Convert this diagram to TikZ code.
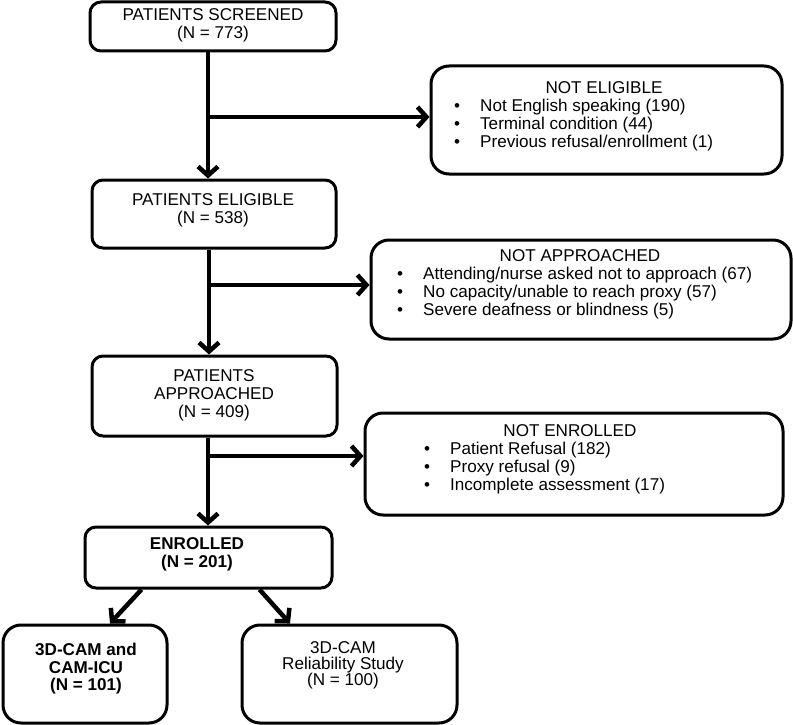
\documentclass[tikz,border=0pt]{standalone}
\usepackage{fontspec}
\setmainfont{Liberation Sans}
\usetikzlibrary{arrows.meta}
\begin{document}
\begin{tikzpicture}[x=1pt,y=-1pt,
  box/.style={draw, line width=3pt, rounded corners=11pt, inner sep=0pt},
  sidebox/.style={box, rounded corners=18pt},
  txt/.style={align=center, inner sep=0pt, font=\fontsize{17.1}{18}\selectfont},
  listtxt/.style={inner sep=0pt, anchor=base west, font=\fontsize{17.1}{18.3}\selectfont},
  conn/.style={line width=4.5pt, -{Straight Barb[length=9pt,width=20pt]}}]
\useasboundingbox (0,0) rectangle (793,725);

% main boxes
\node[box, minimum width=246pt, minimum height=49pt] (scr) at (213,26.5) {};
\node[txt] (scrt) at (213,25) {PATIENTS SCREENED\\(N = 773)};

\node[box, minimum width=244pt, minimum height=68pt] (eli) at (214,214) {};
\node[txt] (elit) at (213,210.5) {PATIENTS ELIGIBLE\\(N = 538)};

\node[box, minimum width=245pt, minimum height=80pt] (app) at (214.5,396) {};
\node[txt] (appt) at (214,395.5) {PATIENTS\\APPROACHED\\(N = 409)};

\node[box, minimum width=247pt, minimum height=61pt] (enr) at (208.5,557.5) {};
\node[txt, font=\fontsize{17.1}{18}\selectfont\bfseries] (enrt) at (197,554.5) {ENROLLED\\(N = 201)};

\node[sidebox, minimum width=164pt, minimum height=98pt] (cam) at (85,674) {};
\node[txt, font=\fontsize{17.1}{17.5}\selectfont\bfseries] (camt) at (86,669) {3D-CAM and\\CAM-ICU\\(N = 101)};

\node[sidebox, minimum width=215pt, minimum height=98pt] (rel) at (349.5,674) {};
\node[txt, font=\fontsize{17.1}{16}\selectfont] (relt) at (343,665.5) {3D-CAM\\Reliability Study\\(N = 100)};

% side boxes
\node[sidebox, minimum width=351pt, minimum height=108pt] (ne) at (606.5,120) {};
\node[txt, anchor=base] (net) at (604,93) {NOT ELIGIBLE};
\node[listtxt] (nel) at (454,111) {\begin{tabular}[t]{@{}l@{\hspace{20pt}}l@{}}
\textbullet & Not English speaking (190)\\
\textbullet & Terminal condition (44)\\
\textbullet & Previous refusal/enrollment (1)\end{tabular}};

\node[sidebox, minimum width=420pt, minimum height=99pt] (na) at (581,289.5) {};
\node[txt, anchor=base] (nat) at (580,261) {NOT APPROACHED};
\node[listtxt] (nal) at (397,279) {\begin{tabular}[t]{@{}l@{\hspace{20pt}}l@{}}
\textbullet & Attending/nurse asked not to approach (67)\\
\textbullet & No capacity/unable to reach proxy (57)\\
\textbullet & Severe deafness or blindness (5)\end{tabular}};

\node[sidebox, minimum width=418pt, minimum height=102pt] (nen) at (574,464) {};
\node[txt, anchor=base] (nent) at (570,436) {NOT ENROLLED};
\node[listtxt] (nenl) at (424,454) {\begin{tabular}[t]{@{}l@{\hspace{20pt}}l@{}}
\textbullet & Patient Refusal (182)\\
\textbullet & Proxy refusal (9)\\
\textbullet & Incomplete assessment (17)\end{tabular}};

% connectors
\coordinate (b1) at (208,117);
\coordinate (b2) at (209,285);
\coordinate (b3) at (208,456);
\draw[conn] (b1 |- scr.south) -- (b1 |- eli.north);
\draw[conn] (b1) -- (b1 -| ne.west);
\draw[conn] (b2 |- eli.south) -- (b2 |- app.north);
\draw[conn] (b2) -- (b2 -| na.west);
\draw[conn] (b3 |- app.south) -- (b3 |- enr.north);
\draw[conn] (b3) -- (b3 -| nen.west);
\draw[conn] ([xshift=58pt]enr.south west) -- ([xshift=25pt]cam.north);
\draw[conn] ([xshift=-74pt]enr.south east) -- ([xshift=-59.5pt]rel.north);
\end{tikzpicture}
\end{document}
